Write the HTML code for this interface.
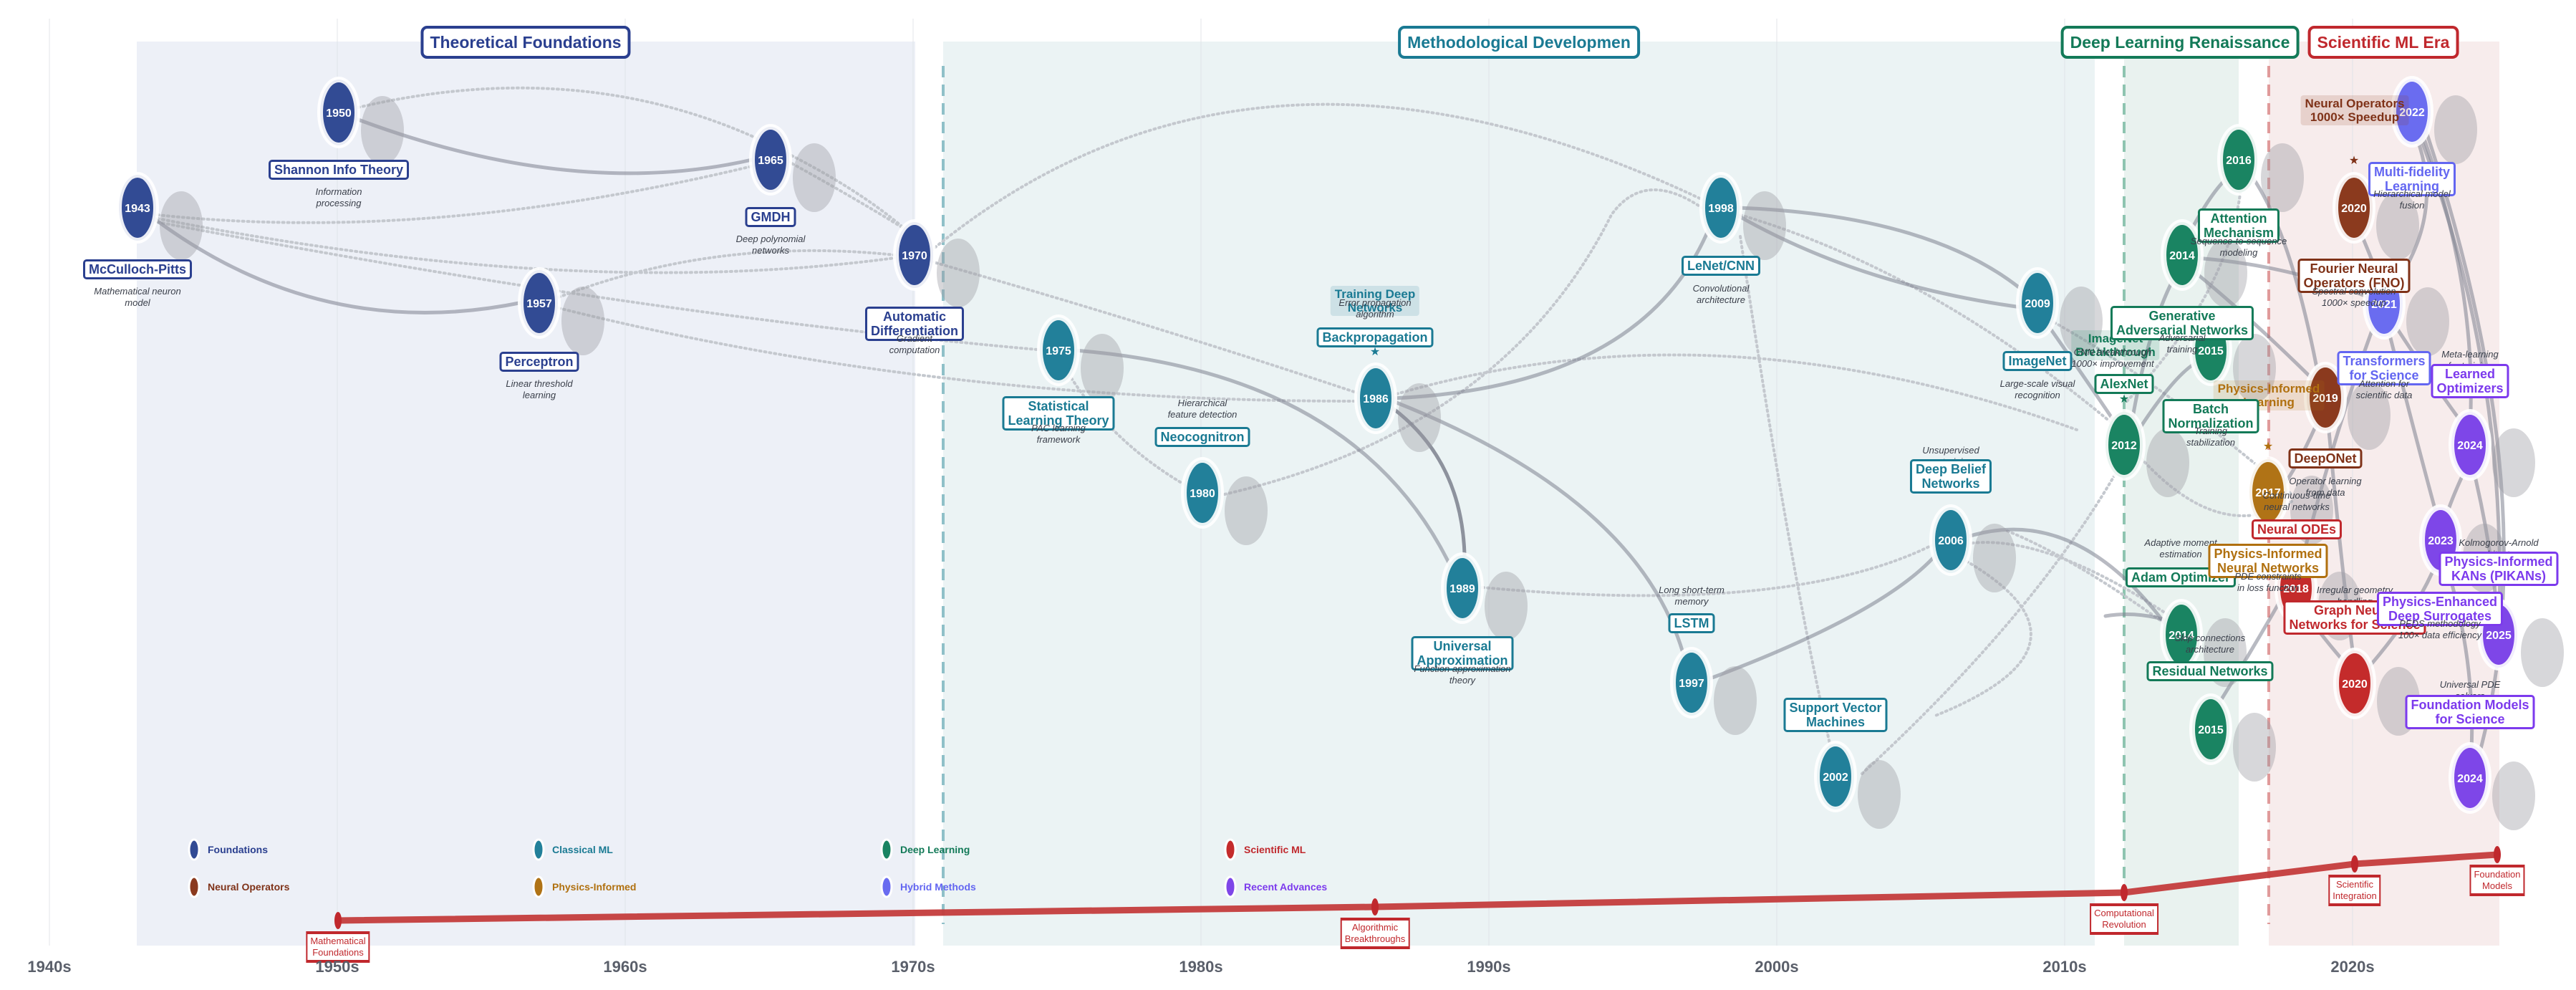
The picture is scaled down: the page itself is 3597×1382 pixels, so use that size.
<!DOCTYPE html>
<html><head><meta charset="utf-8">
<style>
html,body{margin:0;padding:0;background:#fff;}
#root{position:relative;width:3597px;height:1382px;overflow:hidden;font-family:"Liberation Sans",Arial,sans-serif;}
svg{position:absolute;left:0;top:0;}
.l{position:absolute;transform:translate(-50%,-50%);background:#fff;border:3px solid;border-radius:5px;padding:1px 5px;font-weight:bold;font-size:18px;line-height:20px;text-align:center;white-space:nowrap;}
.d{position:absolute;transform:translate(-50%,-50%);font-style:italic;font-size:13px;line-height:16px;color:#3a3f4a;text-align:center;white-space:nowrap;}
.t{position:absolute;transform:translate(-50%,-50%);background:#fff;border:4px solid;border-radius:9px;padding:4px 9px;font-weight:bold;font-size:23px;line-height:30px;white-space:nowrap;}
.h{position:absolute;transform:translate(-50%,-50%);border-radius:4px;padding:2px 6px;font-weight:bold;font-size:17px;line-height:19px;text-align:center;white-space:nowrap;}
.b{position:absolute;transform:translate(-50%,-50%);background:#fff;border:2px solid #c0282d;border-top-width:4px;border-bottom-width:4px;padding:2px 4px;font-size:13px;line-height:16px;color:#c0282d;text-align:center;white-space:nowrap;}
.ax{position:absolute;transform:translate(-50%,-50%);font-weight:bold;font-size:22px;color:#5a5f6a;}
.lg{position:absolute;font-size:14px;font-weight:bold;transform:translateY(-50%);}
.F{color:#2a3f8f;border-color:#2a3f8f}.C{color:#1a7a93;border-color:#1a7a93}.D{color:#137a58;border-color:#137a58}
.N{color:#7f3218;border-color:#7f3218}.P{color:#b0700f;border-color:#b0700f}.H{color:#6366f1;border-color:#6366f1}
.R{color:#7c3aed;border-color:#7c3aed}.S{color:#c0282d;border-color:#c0282d}
</style></head><body><div id="root">
<svg width="3597" height="1382" viewBox="0 0 3597 1382">
<rect x="191" y="58" width="1087" height="1262" fill="#edf0f7"/>
<rect x="1317" y="58" width="1608" height="1262" fill="#ebf3f4"/>
<rect x="2966" y="58" width="160" height="1262" fill="#e9f2ef"/>
<rect x="3168" y="58" width="322" height="1262" fill="#f7ecec"/>
<g stroke="#dde0e6" stroke-width="1" opacity="0.8">
<line x1="69" y1="26" x2="69" y2="1320"/><line x1="471" y1="26" x2="471" y2="1320"/><line x1="873" y1="26" x2="873" y2="1320"/><line x1="1275" y1="26" x2="1275" y2="1320"/><line x1="1677" y1="26" x2="1677" y2="1320"/><line x1="2079" y1="26" x2="2079" y2="1320"/><line x1="2481" y1="26" x2="2481" y2="1320"/><line x1="2883" y1="26" x2="2883" y2="1320"/><line x1="3285" y1="26" x2="3285" y2="1320"/>
</g>
<line x1="1317" y1="92" x2="1317" y2="1290" stroke="#8fc0c8" stroke-width="4" stroke-dasharray="16,10"/>
<line x1="2966" y1="92" x2="2966" y2="1290" stroke="#8ec4b0" stroke-width="4" stroke-dasharray="16,10"/>
<line x1="3168" y1="92" x2="3168" y2="1290" stroke="#e09a9a" stroke-width="4" stroke-dasharray="16,10"/>
<g fill="none" stroke="#c4c8ce" stroke-width="4" stroke-dasharray="2,5" stroke-linecap="round">
<path d="M220,300 Q600,340 1050,232"/>
<path d="M220,305 Q800,420 1250,360"/>
<path d="M220,310 Q900,440 1460,489"/>
<path d="M500,150 Q800,80 1050,190 Q1200,260 1275,330"/>
<path d="M780,415 Q1000,330 1250,356"/>
<path d="M780,430 Q1300,560 1890,560"/>
<path d="M1100,225 Q1200,280 1280,330"/>
<path d="M1300,350 Q1750,-20 2380,280"/>
<path d="M1300,365 Q1600,450 1900,550"/>
<path d="M1460,460 Q1520,600 1660,680"/>
<path d="M1710,690 Q2100,600 2250,300 Q2300,230 2390,300"/>
<path d="M1950,550 Q2400,420 2900,600"/>
<path d="M2070,820 Q2500,860 2700,760"/>
<path d="M2430,330 Q2500,800 2560,1060"/>
<path d="M2430,300 Q2700,380 2960,600"/>
<path d="M2740,780 Q2950,900 2700,1000"/>
<path d="M2740,760 Q2850,740 3030,860"/>
<path d="M2850,440 Q3000,520 3200,690"/>
<path d="M2970,560 Q3120,400 3130,250"/>
<path d="M2990,640 Q3100,760 3200,700"/>
<path d="M2600,1080 Q2850,850 2966,640"/>
<path d="M3050,890 Q2900,780 2800,740"/>
</g>
<g fill="none" stroke="#7d8290" stroke-width="5" stroke-opacity="0.55" stroke-linecap="round">
<path d="M215,305 Q450,480 730,422"/>
<path d="M495,165 Q800,280 1050,223"/>
<path d="M1500,489 Q1900,520 2030,800"/>
<path d="M1945,556 Q2300,540 2390,310"/>
<path d="M1945,560 Q2300,700 2355,930"/>
<path d="M2425,290 Q2700,300 2830,410"/>
<path d="M2425,300 Q2600,400 2830,430"/>
<path d="M2380,950 Q2650,850 2715,760"/>
<path d="M2745,750 Q2900,700 3030,880"/>
<path d="M2850,440 Q2920,540 2960,600"/>
<path d="M2975,600 Q3000,450 3040,380"/>
<path d="M2980,610 Q3050,500 3085,500"/>
<path d="M3050,340 Q3090,260 3120,240"/>
<path d="M3140,240 Q3200,320 3240,540"/>
<path d="M3065,360 Q3200,370 3320,420"/>
<path d="M3065,380 Q3150,450 3240,540"/>
<path d="M3087,1000 Q3150,900 3200,810"/>
<path d="M3060,880 Q3000,850 2940,860"/>
<path d="M3250,580 Q3270,800 3288,930"/>
<path d="M3240,580 Q3210,650 3180,690"/>
<path d="M3290,310 Q3320,380 3329,410"/>
<path d="M3380,180 Q3460,400 3449,600"/>
<path d="M3375,180 Q3500,500 3490,870"/>
<path d="M3370,180 Q3420,300 3335,410"/>
<path d="M3385,175 Q3560,700 3460,1060"/>
<path d="M3335,440 Q3400,540 3445,600"/>
<path d="M3330,440 Q3370,600 3408,740"/>
<path d="M3320,440 Q3260,600 3210,800"/>
<path d="M3450,640 Q3480,760 3488,870"/>
<path d="M3450,640 Q3420,700 3410,740"/>
<path d="M3300,940 Q3380,850 3408,770"/>
<path d="M3410,770 Q3460,920 3450,1070"/>
<path d="M3200,830 Q3250,900 3288,940"/>
</g>
<path d="M1945,570 Q2050,650 2045,800" fill="none" stroke="#6d7280" stroke-width="5" stroke-opacity="0.75"/>
<g fill="#9a9ca3" fill-opacity="0.4">
<ellipse cx="253" cy="315" rx="30" ry="48"/><ellipse cx="534" cy="182" rx="30" ry="48"/><ellipse cx="1137" cy="248" rx="30" ry="48"/><ellipse cx="814" cy="448" rx="30" ry="48"/><ellipse cx="1338" cy="381" rx="30" ry="48"/>
<ellipse cx="1539" cy="514" rx="30" ry="48"/><ellipse cx="1740" cy="713" rx="30" ry="48"/><ellipse cx="1982" cy="583" rx="30" ry="48"/><ellipse cx="2103" cy="846" rx="30" ry="48"/><ellipse cx="2464" cy="315" rx="30" ry="48"/><ellipse cx="2423" cy="978" rx="30" ry="48"/><ellipse cx="2624" cy="1109" rx="30" ry="48"/><ellipse cx="2785" cy="779" rx="30" ry="48"/><ellipse cx="2906" cy="448" rx="30" ry="48"/>
<ellipse cx="3027" cy="646" rx="30" ry="48"/><ellipse cx="3108" cy="381" rx="30" ry="48"/><ellipse cx="3148" cy="514" rx="30" ry="48"/><ellipse cx="3187" cy="248" rx="30" ry="48"/><ellipse cx="3107" cy="911" rx="30" ry="48"/><ellipse cx="3148" cy="1043" rx="30" ry="48"/>
<ellipse cx="3348" cy="315" rx="30" ry="48"/><ellipse cx="3308" cy="580" rx="30" ry="48"/><ellipse cx="3390" cy="449" rx="30" ry="48"/><ellipse cx="3228" cy="712" rx="30" ry="48"/><ellipse cx="3267" cy="846" rx="30" ry="48"/><ellipse cx="3349" cy="979" rx="30" ry="48"/><ellipse cx="3429" cy="181" rx="30" ry="48"/><ellipse cx="3510" cy="646" rx="30" ry="48"/><ellipse cx="3469" cy="779" rx="30" ry="48"/><ellipse cx="3550" cy="911" rx="30" ry="48"/><ellipse cx="3510" cy="1111" rx="30" ry="48"/>
</g>
<g stroke="#fff" stroke-width="8" stroke-opacity="0.9">
<g fill="#324b94"><ellipse cx="192" cy="290" rx="26" ry="46"/><ellipse cx="473" cy="157" rx="26" ry="46"/><ellipse cx="1076" cy="223" rx="26" ry="46"/><ellipse cx="753" cy="423" rx="26" ry="46"/><ellipse cx="1277" cy="356" rx="26" ry="46"/></g>
<g fill="#22809a"><ellipse cx="1478" cy="489" rx="26" ry="46"/><ellipse cx="1679" cy="688" rx="26" ry="46"/><ellipse cx="1921" cy="556" rx="26" ry="46"/><ellipse cx="2042" cy="821" rx="26" ry="46"/><ellipse cx="2403" cy="290" rx="26" ry="46"/><ellipse cx="2362" cy="953" rx="26" ry="46"/><ellipse cx="2563" cy="1084" rx="26" ry="46"/><ellipse cx="2724" cy="754" rx="26" ry="46"/><ellipse cx="2845" cy="423" rx="26" ry="46"/></g>
<g fill="#1a8462"><ellipse cx="3047" cy="356" rx="26" ry="46"/><ellipse cx="3087" cy="489" rx="26" ry="46"/><ellipse cx="3126" cy="223" rx="26" ry="46"/><ellipse cx="2966" cy="621" rx="26" ry="46"/><ellipse cx="3046" cy="886" rx="26" ry="46"/><ellipse cx="3087" cy="1018" rx="26" ry="46"/></g>
<ellipse cx="3206" cy="821" rx="26" ry="46" fill="#c42b2b"/>
<ellipse cx="3167" cy="687" rx="26" ry="46" fill="#b07316"/>
<g fill="#8b3a1e"><ellipse cx="3287" cy="290" rx="26" ry="46"/><ellipse cx="3247" cy="555" rx="26" ry="46"/></g>
<g fill="#6a6cf0"><ellipse cx="3368" cy="156" rx="26" ry="46"/><ellipse cx="3329" cy="424" rx="26" ry="46"/></g>
<ellipse cx="3288" cy="954" rx="26" ry="46" fill="#c42b2b"/>
<g fill="#7e46e8"><ellipse cx="3449" cy="621" rx="26" ry="46"/><ellipse cx="3408" cy="754" rx="26" ry="46"/><ellipse cx="3489" cy="886" rx="26" ry="46"/><ellipse cx="3449" cy="1086" rx="26" ry="46"/></g>
</g>
<g fill="#fff" font-weight="bold" font-size="16" text-anchor="middle" font-family="Liberation Sans, sans-serif">
<text x="192" y="296">1943</text><text x="473" y="163">1950</text><text x="1076" y="229">1965</text><text x="753" y="429">1957</text><text x="1277" y="362">1970</text>
<text x="1478" y="495">1975</text><text x="1679" y="694">1980</text><text x="1921" y="562">1986</text><text x="2042" y="827">1989</text><text x="2403" y="296">1998</text><text x="2362" y="959">1997</text><text x="2563" y="1090">2002</text><text x="2724" y="760">2006</text><text x="2845" y="429">2009</text>
<text x="3047" y="362">2014</text><text x="3087" y="495">2015</text><text x="3126" y="229">2016</text><text x="2966" y="627">2012</text><text x="3046" y="892">2014</text><text x="3087" y="1024">2015</text>
<text x="3206" y="827">2018</text><text x="3167" y="693">2017</text><text x="3287" y="296">2020</text><text x="3247" y="561">2019</text><text x="3368" y="162">2022</text><text x="3329" y="430">2021</text><text x="3288" y="960">2020</text>
<text x="3449" y="627">2024</text><text x="3408" y="760">2023</text><text x="3489" y="892">2025</text><text x="3449" y="1092">2024</text>
</g>
<g font-size="16" text-anchor="middle"><text x="1920" y="496" fill="#1a7a93">★</text><text x="2966" y="562" fill="#137a58">★</text><text x="3167" y="628" fill="#b0700f">★</text><text x="3287" y="229" fill="#7f3218">★</text></g>
<g stroke="#fff" stroke-width="3"><ellipse cx="271" cy="1186" rx="7" ry="14" fill="#324b94"/><ellipse cx="752" cy="1186" rx="7" ry="14" fill="#22809a"/><ellipse cx="1238" cy="1186" rx="7" ry="14" fill="#1a8462"/><ellipse cx="1718" cy="1186" rx="7" ry="14" fill="#c42b2b"/>
<ellipse cx="271" cy="1238" rx="7" ry="14" fill="#8b3a1e"/><ellipse cx="752" cy="1238" rx="7" ry="14" fill="#b07316"/><ellipse cx="1238" cy="1238" rx="7" ry="14" fill="#6a6cf0"/><ellipse cx="1718" cy="1238" rx="7" ry="14" fill="#7e46e8"/></g>
<polyline points="472,1285 1920,1266 2966,1246 3288,1206 3487,1193" fill="none" stroke="#c43c3c" stroke-width="9" stroke-opacity="0.95"/>
<g fill="#c0282d"><ellipse cx="472" cy="1285" rx="5" ry="12"/><ellipse cx="1920" cy="1266" rx="5" ry="12"/><ellipse cx="2966" cy="1246" rx="5" ry="12"/><ellipse cx="3288" cy="1206" rx="5" ry="12"/><ellipse cx="3487" cy="1193" rx="5" ry="12"/></g>
</svg>

<div class="t F" style="left:734px;top:59px">Theoretical Foundations</div>
<div class="t C" style="left:2121px;top:59px">Methodological Developmen</div>
<div class="t D" style="left:3044px;top:59px">Deep Learning Renaissance</div>
<div class="t S" style="left:3328px;top:59px">Scientific ML Era</div>

<div class="h C" style="left:1920px;top:420px;background:rgba(34,128,154,0.15)">Training Deep<br>Networks</div>
<div class="h D" style="left:2954px;top:482px;background:rgba(26,132,98,0.15)">ImageNet<br>Breakthrough</div>
<div class="h N" style="left:3288px;top:154px;background:rgba(139,58,30,0.15)">Neural Operators<br>1000× Speedup</div>
<div class="h P" style="left:3168px;top:552px;background:rgba(176,115,22,0.15)">Physics-Informed<br>Learning</div>

<div class="l F" style="left:192px;top:376px">McCulloch-Pitts</div>
<div class="d" style="left:192px;top:415px">Mathematical neuron<br>model</div>
<div class="l F" style="left:473px;top:237px">Shannon Info Theory</div>
<div class="d" style="left:473px;top:276px">Information<br>processing</div>
<div class="l F" style="left:1076px;top:303px">GMDH</div>
<div class="d" style="left:1076px;top:342px">Deep polynomial<br>networks</div>
<div class="l F" style="left:753px;top:505px">Perceptron</div>
<div class="d" style="left:753px;top:544px">Linear threshold<br>learning</div>
<div class="l F" style="left:1277px;top:452px">Automatic<br>Differentiation</div>
<div class="d" style="left:1277px;top:481px">Gradient<br>computation</div>

<div class="l C" style="left:1478px;top:577px">Statistical<br>Learning Theory</div>
<div class="d" style="left:1478px;top:606px">PAC learning<br>framework</div>
<div class="d" style="left:1679px;top:571px">Hierarchical<br>feature detection</div>
<div class="l C" style="left:1679px;top:610px">Neocognitron</div>
<div class="d" style="left:1920px;top:431px">Error propagation<br>algorithm</div>
<div class="l C" style="left:1920px;top:471px">Backpropagation</div>
<div class="l C" style="left:2042px;top:912px">Universal<br>Approximation</div>
<div class="d" style="left:2042px;top:942px">Function approximation<br>theory</div>
<div class="l C" style="left:2403px;top:371px">LeNet/CNN</div>
<div class="d" style="left:2403px;top:411px">Convolutional<br>architecture</div>
<div class="d" style="left:2362px;top:832px">Long short-term<br>memory</div>
<div class="l C" style="left:2362px;top:870px">LSTM</div>
<div class="d" style="left:2563px;top:980px">Kernel methods</div>
<div class="l C" style="left:2563px;top:998px">Support Vector<br>Machines</div>
<div class="d" style="left:2724px;top:637px">Unsupervised<br>pretraining</div>
<div class="l C" style="left:2724px;top:665px">Deep Belief<br>Networks</div>
<div class="l C" style="left:2845px;top:504px">ImageNet</div>
<div class="d" style="left:2845px;top:544px">Large-scale visual<br>recognition</div>

<div class="d" style="left:2950px;top:500px">CNN breakthrough<br>1000× improvement</div>
<div class="l D" style="left:2966px;top:536px">AlexNet</div>
<div class="l D" style="left:3047px;top:451px">Generative<br>Adversarial Networks</div>
<div class="d" style="left:3047px;top:480px">Adversarial<br>training</div>
<div class="l D" style="left:3087px;top:581px">Batch<br>Normalization</div>
<div class="d" style="left:3087px;top:610px">Training<br>stabilization</div>
<div class="l D" style="left:3126px;top:315px">Attention<br>Mechanism</div>
<div class="d" style="left:3126px;top:345px">Sequence-to-sequence<br>modeling</div>
<div class="d" style="left:3045px;top:766px">Adaptive moment<br>estimation</div>
<div class="l D" style="left:3045px;top:806px">Adam Optimizer</div>
<div class="d" style="left:3086px;top:899px">Skip connections<br>architecture</div>
<div class="l D" style="left:3086px;top:937px">Residual Networks</div>

<div class="l N" style="left:3247px;top:640px">DeepONet</div>
<div class="d" style="left:3247px;top:680px">Operator learning<br>from data</div>
<div class="d" style="left:3207px;top:700px">Continuous-time<br>neural networks</div>
<div class="l S" style="left:3207px;top:739px">Neural ODEs</div>
<div class="l P" style="left:3167px;top:783px">Physics-Informed<br>Neural Networks</div>
<div class="d" style="left:3167px;top:813px">PDE constraints<br>in loss function</div>
<div class="d" style="left:3288px;top:832px">Irregular geometry<br>handling</div>
<div class="l S" style="left:3288px;top:862px">Graph Neural<br>Networks for Science</div>
<div class="l N" style="left:3287px;top:385px">Fourier Neural<br>Operators (FNO)</div>
<div class="d" style="left:3287px;top:415px">Spectral convolution<br>1000× speedup</div>
<div class="l H" style="left:3368px;top:250px">Multi-fidelity<br>Learning</div>
<div class="d" style="left:3368px;top:279px">Hierarchical model<br>fusion</div>
<div class="l H" style="left:3329px;top:514px">Transformers<br>for Science</div>
<div class="d" style="left:3329px;top:544px">Attention for<br>scientific data</div>
<div class="d" style="left:3449px;top:503px">Meta-learning<br>for training</div>
<div class="l R" style="left:3449px;top:532px">Learned<br>Optimizers</div>
<div class="d" style="left:3489px;top:766px">Kolmogorov-Arnold<br>architecture</div>
<div class="l R" style="left:3489px;top:794px">Physics-Informed<br>KANs (PIKANs)</div>
<div class="l R" style="left:3407px;top:850px">Physics-Enhanced<br>Deep Surrogates</div>
<div class="d" style="left:3407px;top:879px">PEDS methodology<br>100× data efficiency</div>
<div class="d" style="left:3449px;top:964px">Universal PDE<br>solvers</div>
<div class="l R" style="left:3449px;top:994px">Foundation Models<br>for Science</div>

<div class="lg F" style="left:290px;top:1186px">Foundations</div>
<div class="lg C" style="left:771px;top:1186px">Classical ML</div>
<div class="lg D" style="left:1257px;top:1186px">Deep Learning</div>
<div class="lg S" style="left:1737px;top:1186px">Scientific ML</div>
<div class="lg N" style="left:290px;top:1238px">Neural Operators</div>
<div class="lg P" style="left:771px;top:1238px">Physics-Informed</div>
<div class="lg H" style="left:1257px;top:1238px">Hybrid Methods</div>
<div class="lg R" style="left:1737px;top:1238px">Recent Advances</div>

<div class="b" style="left:472px;top:1322px">Mathematical<br>Foundations</div>
<div class="b" style="left:1920px;top:1303px">Algorithmic<br>Breakthroughs</div>
<div class="b" style="left:2966px;top:1283px">Computational<br>Revolution</div>
<div class="b" style="left:3288px;top:1243px">Scientific<br>Integration</div>
<div class="b" style="left:3487px;top:1229px">Foundation<br>Models</div>

<div class="ax" style="left:69px;top:1350px">1940s</div>
<div class="ax" style="left:471px;top:1350px">1950s</div>
<div class="ax" style="left:873px;top:1350px">1960s</div>
<div class="ax" style="left:1275px;top:1350px">1970s</div>
<div class="ax" style="left:1677px;top:1350px">1980s</div>
<div class="ax" style="left:2079px;top:1350px">1990s</div>
<div class="ax" style="left:2481px;top:1350px">2000s</div>
<div class="ax" style="left:2883px;top:1350px">2010s</div>
<div class="ax" style="left:3285px;top:1350px">2020s</div>
</div></body></html>
